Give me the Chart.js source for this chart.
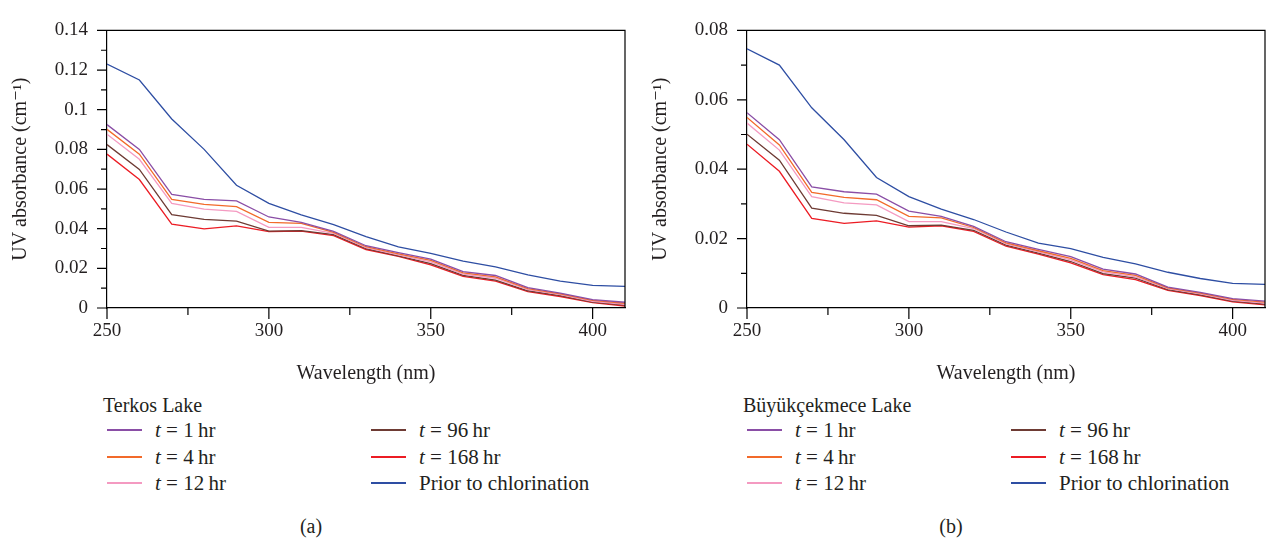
<!DOCTYPE html>
<html>
<head>
<meta charset="utf-8">
<script src="https://cdn.jsdelivr.net/npm/chart.js@4"></script>
<style>
  body { margin: 0; background: #fff; }
  #page { position: relative; width: 1267px; height: 538px; overflow: hidden; font-family: "Liberation Serif", "DejaVu Serif", serif; color: #231f20; }
  .panel { position: absolute; top: 0; width: 640px; height: 538px; }
  .panel canvas { position: absolute; left: 0; top: 0; }
  .lg { position: absolute; font-size: 20px; line-height: 24px; white-space: nowrap; }
  .lg.item { font-size: 21px; }
  .sw { position: absolute; width: 35px; height: 2px; }
  .cap { position: absolute; font-size: 20px; line-height: 24px; width: 60px; text-align: center; }
</style>
</head>
<body>
<div id="page">
  <div class="panel" id="panelA" style="left:0"><canvas id="chartA" width="640" height="390"></canvas></div>
  <div class="panel" id="panelB" style="left:640px"><canvas id="chartB" width="640" height="390"></canvas></div>
</div>
<script>
const wavelengths = [250, 260, 270, 280, 290, 300, 310, 320, 330, 340, 350, 360, 370, 380, 390, 400, 410];
const xTicks = [250, 275, 300, 325, 350, 375, 400];

const seriesNames = ['t = 1 hr', 't = 4 hr', 't = 12 hr', 't = 96 hr', 't = 168 hr', 'Prior to chlorination'];
const seriesColors = ['#8a4ea6', '#f26a2a', '#f49ac1', '#6e3b34', '#ec1c24', '#2e4ea3'];

// Terkos Lake
const terkos1h   = [0.0925, 0.080, 0.0573, 0.0548, 0.0540, 0.0459, 0.0432, 0.0386, 0.0314, 0.0279, 0.0247, 0.0183, 0.0164, 0.0103, 0.0075, 0.0042, 0.0029];
const terkos4h   = [0.0901, 0.0776, 0.0548, 0.0523, 0.0511, 0.0432, 0.0427, 0.0381, 0.0309, 0.0273, 0.0240, 0.0177, 0.0157, 0.0098, 0.0071, 0.0038, 0.0024];
const terkos12h  = [0.0876, 0.0750, 0.0528, 0.0499, 0.0487, 0.0407, 0.0407, 0.0376, 0.0304, 0.0268, 0.0233, 0.0171, 0.0150, 0.0093, 0.0067, 0.0034, 0.0019];
const terkos96h  = [0.0824, 0.0699, 0.0471, 0.0447, 0.0438, 0.0388, 0.0390, 0.0370, 0.0299, 0.0263, 0.0224, 0.0164, 0.0141, 0.0087, 0.0062, 0.0030, 0.0014];
const terkos168h = [0.0776, 0.0648, 0.0423, 0.0399, 0.0414, 0.0385, 0.0388, 0.0365, 0.0295, 0.0260, 0.0218, 0.0159, 0.0135, 0.0083, 0.0058, 0.0027, 0.0010];
const terkosPrior = [0.123, 0.115, 0.0953, 0.080, 0.0619, 0.0528, 0.0470, 0.0420, 0.0360, 0.0308, 0.0276, 0.0236, 0.0207, 0.0167, 0.0135, 0.0114, 0.0109];

// Büyükçekmece Lake
const buyuk1h   = [0.0563, 0.0485, 0.0349, 0.0335, 0.0328, 0.0279, 0.0264, 0.0235, 0.0191, 0.0169, 0.0148, 0.0112, 0.0098, 0.0060, 0.0045, 0.0027, 0.0020];
const buyuk4h   = [0.0549, 0.0470, 0.0333, 0.0319, 0.0312, 0.0264, 0.0260, 0.0232, 0.0188, 0.0165, 0.0143, 0.0108, 0.0094, 0.0058, 0.0043, 0.0025, 0.0017];
const buyuk12h  = [0.0533, 0.0455, 0.0321, 0.0303, 0.0297, 0.0249, 0.0249, 0.0229, 0.0185, 0.0162, 0.0139, 0.0104, 0.0090, 0.0056, 0.0041, 0.0022, 0.0014];
const buyuk96h  = [0.0501, 0.0426, 0.0288, 0.0273, 0.0267, 0.0237, 0.0239, 0.0224, 0.0181, 0.0158, 0.0134, 0.0099, 0.0086, 0.0053, 0.0038, 0.0020, 0.0011];
const buyuk168h = [0.0472, 0.0394, 0.0258, 0.0244, 0.0251, 0.0233, 0.0237, 0.0221, 0.0178, 0.0155, 0.0130, 0.0096, 0.0082, 0.0051, 0.0036, 0.0018, 0.0009];
const buyukPrior = [0.0747, 0.0700, 0.0577, 0.0485, 0.0376, 0.0321, 0.0285, 0.0255, 0.0219, 0.0187, 0.0171, 0.0146, 0.0127, 0.0103, 0.0085, 0.0071, 0.0068];

const FONT = '"Liberation Serif", "DejaVu Serif", serif';

// box top/right edges plus tick marks (major longer than minor)
const frameTicks = {
  id: 'frameTicks',
  afterDraw(chart) {
    const { ctx, chartArea: a, scales: { x, y } } = chart;
    ctx.save();
    ctx.strokeStyle = '#000';
    ctx.lineWidth = 1.2;
    ctx.beginPath();
    ctx.moveTo(a.left, a.top);
    ctx.lineTo(a.right, a.top);
    ctx.lineTo(a.right, a.bottom);
    x.ticks.forEach(t => {
      const px = x.getPixelForValue(t.value);
      const len = t.value % 50 === 0 ? 11 : 7;
      ctx.moveTo(px, a.bottom);
      ctx.lineTo(px, a.bottom + len);
    });
    y.ticks.forEach(t => {
      const py = y.getPixelForValue(t.value);
      const len = Math.round(t.value * 100) % 2 === 0 ? 10 : 6;
      ctx.moveTo(a.left - len, py);
      ctx.lineTo(a.left, py);
    });
    ctx.stroke();
    ctx.restore();
  }
};

function makeChart(canvasId, lists, yMax) {
  return new Chart(document.getElementById(canvasId), {
    type: 'line',
    data: {
      datasets: lists.map((vals, i) => ({
        label: seriesNames[i],
        data: wavelengths.map((w, j) => ({ x: w, y: vals[j] })),
        borderColor: seriesColors[i],
        borderWidth: 1.3,
        pointRadius: 0,
        tension: 0,
        fill: false
      }))
    },
    options: {
      responsive: false,
      animation: false,
      devicePixelRatio: 1,
      layout: { padding: { top: 17, right: 15, left: 0, bottom: 0 } },
      plugins: { legend: { display: false }, tooltip: { enabled: false } },
      scales: {
        x: {
          type: 'linear',
          min: 250,
          max: 410,
          afterBuildTicks: s => { s.ticks = xTicks.map(v => ({ value: v })); },
          afterFit: s => { s.height = 82; },
          grid: { display: false, drawTicks: false },
          border: { display: true, color: '#000', width: 1.2 },
          ticks: {
            padding: 12,
            color: '#231f20',
            font: { family: FONT, size: 19 },
            maxRotation: 0,
            autoSkip: false,
            callback: v => (v % 50 === 0 ? String(v) : '')
          },
          title: {
            display: true,
            text: 'Wavelength (nm)',
            color: '#231f20',
            font: { family: FONT, size: 20 },
            padding: { top: 4, bottom: 4 }
          }
        },
        y: {
          min: 0,
          max: yMax,
          afterFit: s => { s.width = 107; },
          grid: { display: false, drawTicks: false },
          border: { display: true, color: '#000', width: 1.2 },
          ticks: {
            stepSize: 0.01,
            padding: 19,
            color: '#231f20',
            font: { family: FONT, size: 19 },
            autoSkip: false,
            callback: v => (Math.round(v * 100) % 2 === 0 ? String(+v.toFixed(2)) : '')
          },
          title: {
            display: true,
            text: 'UV absorbance (cm⁻¹)',
            color: '#231f20',
            font: { family: FONT, size: 20 },
            padding: { top: 9, bottom: 0 }
          }
        }
      }
    },
    plugins: [frameTicks]
  });
}

makeChart('chartA', [terkos1h, terkos4h, terkos12h, terkos96h, terkos168h, terkosPrior], 0.14);
makeChart('chartB', [buyuk1h, buyuk4h, buyuk12h, buyuk96h, buyuk168h, buyukPrior], 0.08);

// legend blocks under each chart
function addLegend(panelId, lakeName, caption) {
  const panel = document.getElementById(panelId);
  const add = (cls, style, html) => {
    const d = document.createElement('div');
    d.className = cls;
    d.setAttribute('style', style);
    if (html) d.innerHTML = html;
    panel.appendChild(d);
  };
  add('lg', 'left:103px;top:393px', lakeName);
  const rows = [430, 457, 483];
  seriesNames.forEach((name, i) => {
    const col = i < 3 ? 0 : 1;
    const cy = rows[i % 3];
    const lineX = col ? 371 : 107;
    const textX = col ? 419 : 155;
    add('sw', `left:${lineX}px;top:${cy - 1}px;background:${seriesColors[i]}`);
    const html = name.startsWith('t = ')
      ? '<i>t</i>&nbsp;=&nbsp;' + name.slice(4).replace(' hr', '&thinsp;hr')
      : name;
    add('lg item', `left:${textX}px;top:${cy - 12}px`, html);
  });
  add('cap', 'left:281px;top:514px', caption);
}

addLegend('panelA', 'Terkos Lake', '(a)');
addLegend('panelB', 'Büyükçekmece Lake', '(b)');
</script>
</body>
</html>
